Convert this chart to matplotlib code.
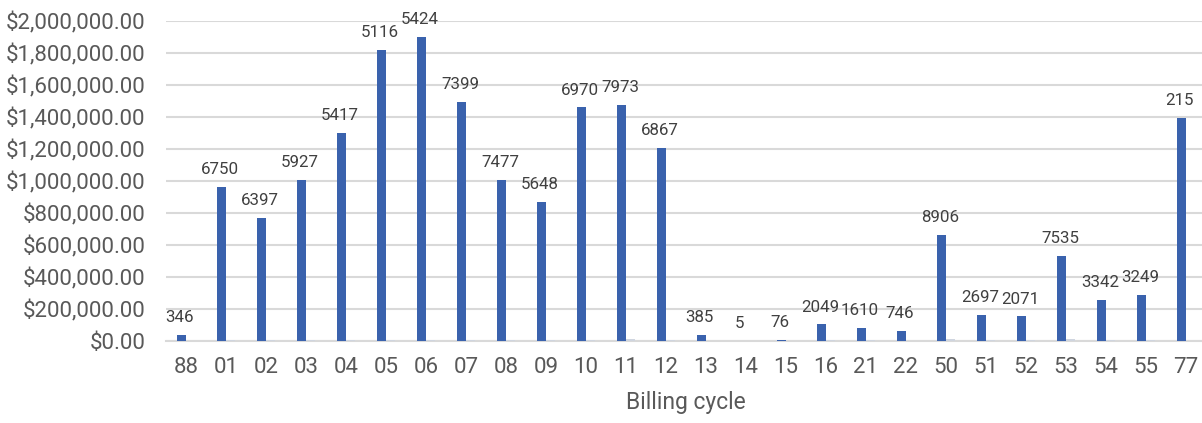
import numpy as np
import matplotlib.pyplot as plt
from matplotlib.ticker import FuncFormatter

plt.rcParams['font.family'] = ['Roboto', 'DejaVu Sans']

# Billing cycles, amount billed and number of accounts per cycle
cycles = ["88", "01", "02", "03", "04", "05", "06", "07", "08", "09", "10", "11", "12",
          "13", "14", "15", "16", "21", "22", "50", "51", "52", "53", "54", "55", "77"]
amounts = [36000, 961000, 769000, 1007000, 1300000, 1816000, 1900000, 1492000, 1005000,
           867000, 1459000, 1475000, 1204000, 37000, 1000, 5000, 102000, 81000, 60000,
           660000, 161000, 152000, 531000, 253000, 286000, 1394000]
counts = [346, 6750, 6397, 5927, 5417, 5116, 5424, 7399, 7477, 5648, 6970, 7973, 6867,
          385, 5, 76, 2049, 1610, 746, 8906, 2697, 2071, 7535, 3342, 3249, 215]

text_col = "#595959"
grid_col = "#d9d9d9"

fig = plt.figure(figsize=(12.02, 4.23), dpi=100)
ax = fig.add_axes([166 / 1202, 1 - 340.7 / 423, 1040 / 1202, 320 / 423])

x = np.arange(len(cycles))
w = 0.235
ax.bar(x - w / 2, amounts, width=w, color="#3a62ad", zorder=3)
ax.bar(x + w / 2, counts, width=w, color="#cfd5df", zorder=3)

# count labels above the amount bars
for xi, a, c in zip(x, amounts, counts):
    ax.annotate(str(c), (xi - w / 2, a), xytext=(-1, 7), textcoords="offset points",
                ha="center", va="bottom", fontsize=12.2, color="#404040")

ax.set_xlim(-0.5, len(cycles) - 0.5)
ax.set_ylim(0, 2000000)
ax.set_yticks(np.arange(0, 2000001, 200000))
ax.yaxis.set_major_formatter(FuncFormatter(lambda v, p: "${:,.2f}".format(v)))
ax.set_xticks(x)
ax.set_xticklabels(cycles)
ax.tick_params(axis="both", length=0, labelsize=16, colors=text_col)
ax.tick_params(axis="y", pad=15)
ax.tick_params(axis="x", pad=12)
ax.grid(axis="y", color=grid_col, linewidth=1.5, zorder=0)
for s in ["top", "right", "left"]:
    ax.spines[s].set_visible(False)
ax.spines["bottom"].set_color(grid_col)
ax.spines["bottom"].set_linewidth(1.5)
ax.set_xlabel("Billing cycle", fontsize=16.5, color=text_col, labelpad=9)

fig.savefig("out.png", dpi=100)
